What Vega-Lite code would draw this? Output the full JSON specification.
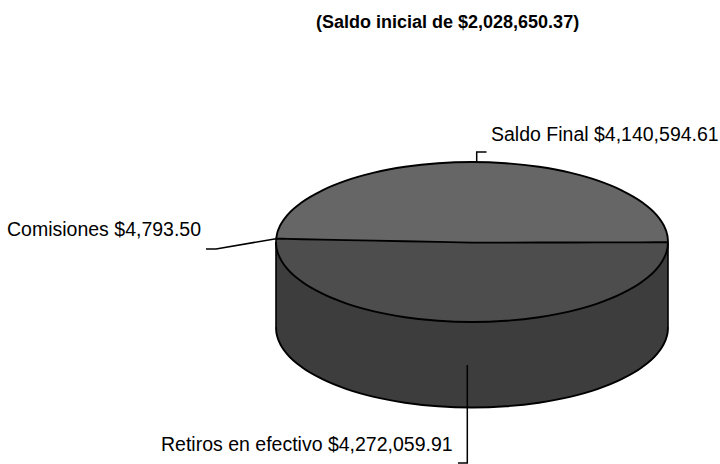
{
"$schema":"https://vega.github.io/schema/vega-lite/v6.json",
"width":720,"height":464,
"autosize":{"type":"none"},
"padding":0,
"background":"white",
"view":{"stroke":null},
"config":{"axis":{"disable":true}},
"datasets":{
"perfil":[
{"x":276.0,"arriba":238.7,"centro":238.7,"abajo":242.0,"fondo":327.5},
{"x":276.3,"arriba":237.8,"centro":238.7,"abajo":246.2,"fondo":331.7},
{"x":277.1,"arriba":233.6,"centro":238.7,"abajo":250.4,"fondo":335.9},
{"x":279.0,"arriba":228.1,"centro":238.8,"abajo":255.9,"fondo":341.4},
{"x":282.7,"arriba":221.3,"centro":238.8,"abajo":262.7,"fondo":348.2},
{"x":287.8,"arriba":214.6,"centro":238.9,"abajo":269.4,"fondo":354.9},
{"x":302.3,"arriba":202.0,"centro":239.2,"abajo":282.0,"fondo":367.5},
{"x":321.9,"arriba":190.6,"centro":239.6,"abajo":293.4,"fondo":378.9},
{"x":346.0,"arriba":180.7,"centro":240.1,"abajo":303.3,"fondo":388.8},
{"x":374.0,"arriba":172.7,"centro":240.6,"abajo":311.3,"fondo":396.8},
{"x":405.0,"arriba":166.8,"centro":241.3,"abajo":317.2,"fondo":402.7},
{"x":438.0,"arriba":163.2,"centro":241.9,"abajo":320.8,"fondo":406.3},
{"x":472.0,"arriba":162.0,"centro":242.6,"abajo":322.0,"fondo":407.5},
{"x":506.0,"arriba":163.2,"centro":242.6,"abajo":320.8,"fondo":406.3},
{"x":539.0,"arriba":166.8,"centro":242.5,"abajo":317.2,"fondo":402.7},
{"x":570.0,"arriba":172.7,"centro":242.5,"abajo":311.3,"fondo":396.8},
{"x":598.0,"arriba":180.7,"centro":242.4,"abajo":303.3,"fondo":388.8},
{"x":622.1,"arriba":190.6,"centro":242.4,"abajo":293.4,"fondo":378.9},
{"x":641.7,"arriba":202.0,"centro":242.4,"abajo":282.0,"fondo":367.5},
{"x":656.2,"arriba":214.6,"centro":242.3,"abajo":269.4,"fondo":354.9},
{"x":661.3,"arriba":221.3,"centro":242.3,"abajo":262.7,"fondo":348.2},
{"x":665.0,"arriba":228.1,"centro":242.3,"abajo":255.9,"fondo":341.4},
{"x":666.9,"arriba":233.6,"centro":242.3,"abajo":250.4,"fondo":335.9},
{"x":667.7,"arriba":237.8,"centro":242.3,"abajo":246.2,"fondo":331.7},
{"x":668.0,"arriba":242.3,"centro":242.3,"abajo":242.3,"fondo":327.5}
],
"bordes":[
{"x":276,"y":238.7,"y2":328},
{"x":668,"y":242.3,"y2":328}
],
"guias":[
{"grupo":"Comisiones","orden":1,"x":276,"y":238.7},
{"grupo":"Comisiones","orden":2,"x":216,"y":249},
{"grupo":"Comisiones","orden":3,"x":206,"y":249},
{"grupo":"Saldo Final","orden":1,"x":476.7,"y":162},
{"grupo":"Saldo Final","orden":2,"x":476.7,"y":152},
{"grupo":"Saldo Final","orden":3,"x":486.5,"y":152},
{"grupo":"Retiros","orden":1,"x":467.3,"y":365},
{"grupo":"Retiros","orden":2,"x":467.3,"y":463},
{"grupo":"Retiros","orden":3,"x":458,"y":463}
],
"etiquetas":[
{"texto":"Saldo Final $4,140,594.61","x":491,"y":141},
{"texto":"Comisiones $4,793.50","x":7,"y":236},
{"texto":"Retiros en efectivo $4,272,059.91","x":161,"y":451}
],
"titulo":[
{"texto":"(Saldo inicial de $2,028,650.37)","x":316,"y":28}
]
},
"encoding":{
"x":{"field":"x","type":"quantitative","scale":{"domain":[0,720],"nice":false,"zero":false},"axis":null}
},
"layer":[
{"data":{"name":"perfil"},"mark":{"type":"area","interpolate":"monotone","fill":"#3d3d3d"},
"encoding":{"y":{"field":"centro","type":"quantitative","scale":{"domain":[464,0],"nice":false,"zero":false},"axis":null},"y2":{"field":"fondo"}}},
{"data":{"name":"perfil"},"mark":{"type":"area","interpolate":"monotone","fill":"#4d4d4d"},
"encoding":{"y":{"field":"centro","type":"quantitative","axis":null},"y2":{"field":"abajo"}}},
{"data":{"name":"perfil"},"mark":{"type":"area","interpolate":"monotone","fill":"#666666"},
"encoding":{"y":{"field":"arriba","type":"quantitative","axis":null},"y2":{"field":"centro"}}},
{"data":{"name":"bordes"},"mark":{"type":"rule","stroke":"#000000","strokeWidth":1.6},
"encoding":{"y":{"field":"y","type":"quantitative","axis":null},"y2":{"field":"y2"}}},
{"data":{"name":"perfil"},"mark":{"type":"line","interpolate":"monotone","stroke":"#000000","strokeWidth":1.9},
"encoding":{"y":{"field":"fondo","type":"quantitative","axis":null}}},
{"data":{"name":"perfil"},"mark":{"type":"line","interpolate":"monotone","stroke":"#000000","strokeWidth":1.9},
"encoding":{"y":{"field":"abajo","type":"quantitative","axis":null}}},
{"data":{"name":"perfil"},"mark":{"type":"line","interpolate":"monotone","stroke":"#000000","strokeWidth":1.9},
"encoding":{"y":{"field":"arriba","type":"quantitative","axis":null}}},
{"data":{"name":"perfil"},"mark":{"type":"line","stroke":"#000000","strokeWidth":1.9},
"encoding":{"y":{"field":"centro","type":"quantitative","axis":null}}},
{"data":{"name":"guias"},"mark":{"type":"line","stroke":"#000000","strokeWidth":1.5},
"encoding":{"y":{"field":"y","type":"quantitative","axis":null},"detail":{"field":"grupo"},"order":{"field":"orden","type":"quantitative"}}},
{"data":{"name":"etiquetas"},"mark":{"type":"text","align":"left","baseline":"alphabetic","font":"Liberation Sans","fontSize":19.5,"fill":"#000000"},
"encoding":{"y":{"field":"y","type":"quantitative","axis":null},"text":{"field":"texto"}}},
{"data":{"name":"titulo"},"mark":{"type":"text","align":"left","baseline":"alphabetic","font":"Liberation Sans","fontSize":18,"fontWeight":"bold","fill":"#000000"},
"encoding":{"y":{"field":"y","type":"quantitative","axis":null},"text":{"field":"texto"}}}
]
}
